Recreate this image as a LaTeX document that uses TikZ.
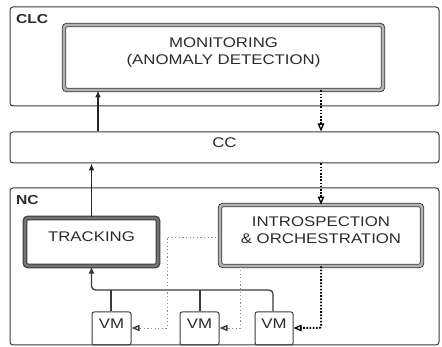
\documentclass[tikz,border=0pt]{standalone}
\usepackage{fontspec}
\setmainfont[FakeStretch=1.2]{Liberation Sans}
\usetikzlibrary{arrows.meta,fit}
\definecolor{ink}{HTML}{3A3A3A}
\definecolor{txt}{HTML}{2A2A2A}
\tikzset{
  layer/.style={draw=ink, line width=1pt, rounded corners=3pt, inner sep=0pt},
  func/.style={draw=ink, line width=0.9pt, double=black!30, double distance=2.6pt,
               rounded corners=3pt, inner sep=0pt, align=center, text=txt},
  funcdark/.style={func, double=black!55, line width=1.1pt},
  vmbox/.style={draw=ink, line width=1pt, rounded corners=2pt, inner sep=0pt, text=txt},
  lbl/.style={font=\fontsize{14}{17}\selectfont, text=txt},
  tag/.style={font=\bfseries\fontsize{13}{15}\selectfont, text=txt, anchor=west, inner sep=0pt},
  upflow/.style={draw=black!85, line width=1.6pt, -{Latex[length=7pt,width=6pt]}},
  bus/.style={draw=ink, line width=1.3pt, rounded corners=4pt},
  ctrl/.style={draw=black, line width=2pt, dash pattern=on 1.6pt off 1.6pt,
               -{Triangle[open,length=8pt,width=6.5pt,line width=1.3pt]}},
  probe/.style={draw=black!45, line width=0.9pt, dash pattern=on 1.2pt off 2.4pt,
               -{Triangle[open,length=8pt,width=6pt,line width=1.4pt,color=ink]}},
}
\begin{document}
\begin{tikzpicture}[x=1pt,y=-1pt]
  \useasboundingbox (0,0) rectangle (442,347);

  % layers
  \node[layer, fit={(10,7) (439,106)}] (clc) {};
  \node[layer, fit={(10,132) (439,163)}, lbl] (cc) {CC};
  \node[layer, fit={(10,188) (439,345)}] (nc) {};
  \node[tag] (clcl) at (16,19) {CLC};
  \node[tag] (ncl) at (16,200) {NC};

  % functional blocks
  \node[func, fit={(64,25) (383,90)}, lbl] (mon) {MONITORING\\(ANOMALY DETECTION)};
  \node[funcdark, fit={(25,218) (158,266)}, lbl] (trk) {TRACKING};
  \node[func, fit={(220,205) (422,266)}, lbl] (ins) {INTROSPECTION\\\& ORCHESTRATION};

  % virtual machines
  \node[vmbox, fit={(92,312) (131,345)}, lbl] (vm1) {VM};
  \node[vmbox, fit={(180,312) (219,345)}, lbl] (vm2) {VM};
  \node[vmbox, fit={(255,312) (293,345)}, lbl] (vm3) {VM};

  % x positions of the vertical connectors
  \coordinate (xup) at (98,0);
  \coordinate (xtr) at (91.5,0);
  \coordinate (xctl) at (321,0);
  \coordinate (xv1) at (111,0);
  \coordinate (xv2) at (200,0);
  \coordinate (xv3) at (273,0);
  \coordinate (xp1) at (167,0);
  \coordinate (xp2) at (240,0);
  \coordinate (busy) at (0,290);
  \coordinate (prby) at (0,328);
  \coordinate (prbx) at (0,237);

  % upward reporting path
  \draw[upflow] (cc.north -| xup) -- (mon.south -| xup);
  \draw[upflow] (trk.north -| xtr) -- (cc.south -| xtr);
  \draw[bus] (vm1.north -| xv1) -- (busy -| xv1);
  \draw[bus] (vm2.north -| xv2) -- (busy -| xv2);
  \draw[bus, -{Latex[length=7pt,width=6pt]}]
    (vm3.north -| xv3) -- (busy -| xv3) -- (busy -| xtr) -- (trk.south -| xtr);

  % downward control path
  \draw[ctrl] (mon.south -| xctl) -- (cc.north -| xctl);
  \draw[ctrl] (cc.south -| xctl) -- (ins.north -| xctl);
  \draw[ctrl, rounded corners=2pt] (ins.south -| xctl) -- (prby -| xctl) -- (prby -| vm3.east);

  % introspection probes
  \draw[probe] (ins.west |- prbx) -- (prbx -| xp1) -- (prby -| xp1) -- (prby -| vm1.east);
  \draw[probe] (ins.south -| xp2) -- (prby -| xp2) -- (prby -| vm2.east);
\end{tikzpicture}
\end{document}
